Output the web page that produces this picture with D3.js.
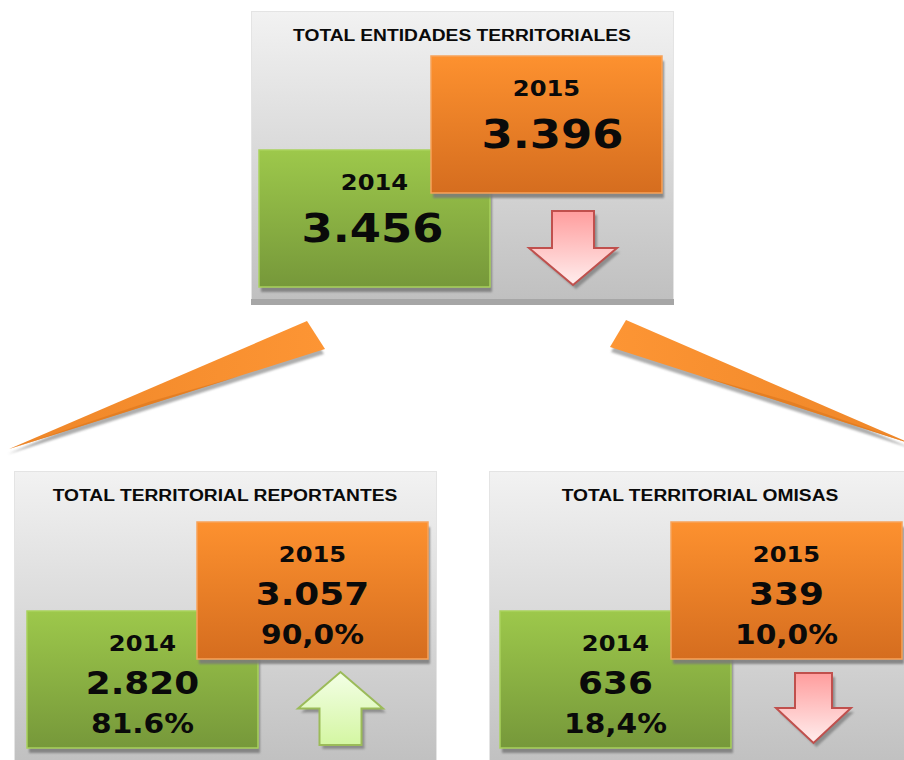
<!DOCTYPE html>
<html>
<head>
<meta charset="utf-8">
<script src="https://cdn.jsdelivr.net/npm/d3@7"></script>
<style>
  body { margin: 0; background: #fff; overflow: hidden; }
</style>
</head>
<body>
<div id="chart"></div>
<script>
// values
var panelTitles = ["TOTAL ENTIDADES TERRITORIALES", "TOTAL TERRITORIAL REPORTANTES", "TOTAL TERRITORIAL OMISAS"];
var years = ["2014", "2015"];
var values2014 = [3456, 2820, 636];
var values2015 = [3396, 3057, 339];
var shares2014 = ["", "81.6%", "18,4%"];
var shares2015 = ["", "90,0%", "10,0%"];

function init() {

    var w = 904;
    var h = 760;

    var boxW = 231, boxH = 137;

    // where each panel sits and what is inside it
    var layout = [
        {x: 251, y: 11, h: 294, green: [8, 139], orange: [180, 45], arrow: [278, 200, 88, 74, 42], big: true},
        {x: 14, y: 471, h: 300, green: [13, 140], orange: [183, 51], arrow: [284, 201, 85, 73, 42], big: false},
        {x: 489, y: 471, h: 300, green: [11, 140], orange: [182, 51], arrow: [287, 202, 75, 70, 37], big: false}
    ];

    var fmt = d3.formatLocale({decimal: ",", thousands: ".", grouping: [3], currency: ["", ""]}).format(",d");

    var svg = d3.select("#chart")
                .append("svg")
                .attr("width", w)
                .attr("height", h);

    var defs = svg.append("defs");

    function grad(id, c1, c2, horiz) {
        var g = defs.append("linearGradient").attr("id", id)
            .attr("x1", 0).attr("y1", 0)
            .attr("x2", horiz ? 1 : 0).attr("y2", horiz ? 0 : 1);
        g.append("stop").attr("offset", "0%").attr("stop-color", c1);
        g.append("stop").attr("offset", "100%").attr("stop-color", c2);
    }
    grad("panelGrad", "#f2f2f2", "#bfbfbf");
    grad("orangeGrad", "#fd912f", "#d56d1f");
    grad("greenGrad", "#9dc84b", "#76983a");
    grad("downGrad", "#ff9d9d", "#ffeeee");
    grad("upGrad", "#f3ffe6", "#d4f6a2");
    grad("wedgeL", "#ee8628", "#fd9534", true);
    grad("wedgeR", "#fd9534", "#ee8628", true);

    defs.append("filter").attr("id", "soft")
        .append("feGaussianBlur").attr("stdDeviation", 1);

    // connector wedges
    var wedges = [
        [[9, 449], [307, 321], [325, 349]],
        [[626, 320], [610, 347], [912, 444]]
    ];
    var line = d3.line();
    wedges.forEach(function(pts, i) {
        svg.append("path")
           .attr("d", line(pts.map(function(p) { return [p[0] + (i ? 1 : -1), p[1] + 5]; })) + "Z")
           .attr("fill", "#9a9a9a")
           .attr("opacity", 0.8)
           .attr("filter", "url(#soft)");
        svg.append("path")
           .attr("d", line(pts) + "Z")
           .attr("fill", i ? "url(#wedgeR)" : "url(#wedgeL)");
    });
    // darker fold along the lower edge near the tips
    svg.append("path").attr("d", line([[9, 449], [150, 401.5], [240, 375.9]]) + "Z")
       .attr("fill", "#e07a20").attr("opacity", 0.8);
    svg.append("path").attr("d", line([[912, 444], [790, 401.5], [700, 375.9]]) + "Z")
       .attr("fill", "#e07a20").attr("opacity", 0.8);

    function arrowPts(aw, ah, sw, up) {
        var cx = aw / 2, hy = ah / 2;
        var pts = [[cx - sw / 2, 0], [cx + sw / 2, 0], [cx + sw / 2, hy], [aw, hy], [cx, ah], [0, hy], [cx - sw / 2, hy]];
        if (up) {
            pts = pts.map(function(p) { return [p[0], ah - p[1]]; });
        }
        return pts;
    }

    function addText(g, str, x, y, size, font, stretch) {
        var t = g.append("text")
                 .text(str)
                 .attr("x", x)
                 .attr("y", y + size * 0.365)
                 .attr("text-anchor", "middle")
                 .attr("font-family", font)
                 .attr("font-weight", "bold")
                 .attr("font-size", size)
                 .attr("fill", "#0a0a0a");
        var len = t.node().getComputedTextLength();
        t.attr("textLength", len * stretch).attr("lengthAdjust", "spacingAndGlyphs");
        return t;
    }

    layout.forEach(function(p, i) {
        var g = svg.append("g").attr("transform", "translate(" + p.x + "," + p.y + ")");

        g.append("rect")
         .attr("width", 423).attr("height", p.h)
         .attr("fill", "url(#panelGrad)");
        g.append("rect")
         .attr("x", 0.5).attr("y", 0.5)
         .attr("width", 422).attr("height", p.h - 1)
         .attr("fill", "none").attr("stroke", "#e4e4e4");
        if (p.h < 300) {
            g.append("rect").attr("y", p.h - 6).attr("width", 423).attr("height", 6).attr("fill", "#a6a6a6");
        }

        addText(g, panelTitles[i], 211, 24, 16, "'Liberation Sans', Arial, sans-serif", 1.2);

        var boxes = [
            {pos: p.green, fill: "url(#greenGrad)", stroke: "#a9d25c", year: years[0], value: values2014[i], share: shares2014[i]},
            {pos: p.orange, fill: "url(#orangeGrad)", stroke: "#f8a35a", year: years[1], value: values2015[i], share: shares2015[i]}
        ];

        boxes.forEach(function(b) {
            g.append("rect")
             .attr("x", b.pos[0] + 2).attr("y", b.pos[1] + 5)
             .attr("width", boxW).attr("height", boxH)
             .attr("fill", "#7a7a7a").attr("opacity", 0.85)
             .attr("filter", "url(#soft)");
            var bg = g.append("g").attr("transform", "translate(" + b.pos[0] + "," + b.pos[1] + ")");
            bg.append("rect")
              .attr("width", boxW).attr("height", boxH)
              .attr("fill", b.fill)
              .attr("stroke", b.stroke).attr("stroke-width", 1.5);
            var font = "'DejaVu Sans', Verdana, sans-serif";
            addText(bg, b.year, boxW / 2, 32, 22, font, 1.1);
            if (p.big) {
                addText(bg, fmt(b.value), boxW / 2 + (b === boxes[1] ? 6 : -2), 78, 39, font, 1.15);
            } else {
                addText(bg, fmt(b.value), boxW / 2, 71, 32, font, 1.12);
                addText(bg, b.share, boxW / 2, 112, 27, font, 1.1);
            }
        });

        // change arrow
        var up = values2015[i] > values2014[i];
        var a = p.arrow;
        var pts = arrowPts(a[2], a[3], a[4], up);
        var ag = g.append("g").attr("transform", "translate(" + a[0] + "," + a[1] + ")");
        ag.append("path")
          .attr("d", line(pts.map(function(q) { return [q[0] + 3, q[1] + 4]; })) + "Z")
          .attr("fill", "#7f7f7f").attr("opacity", 0.8)
          .attr("filter", "url(#soft)");
        ag.append("path")
          .attr("d", line(pts) + "Z")
          .attr("fill", up ? "url(#upGrad)" : "url(#downGrad)")
          .attr("stroke", up ? "#9bbb59" : "#c0504d")
          .attr("stroke-width", 2)
          .attr("stroke-linejoin", "miter");
    });
}

window.onload = init;
</script>
</body>
</html>
